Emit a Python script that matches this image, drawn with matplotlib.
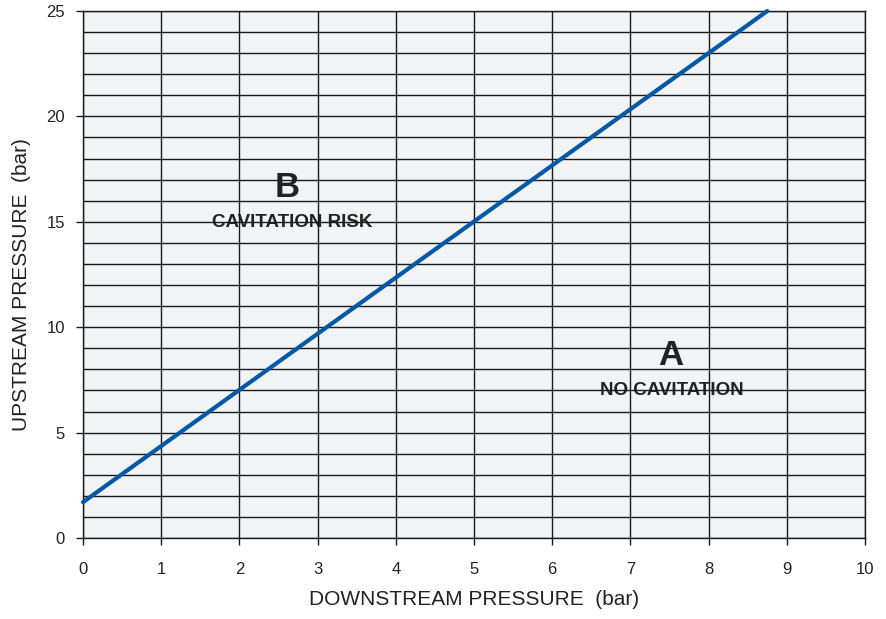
import matplotlib.pyplot as plt
import numpy as np

# curve separating the two zones
downstream = [0, 8.75]
upstream = [1.7, 25.0]

x_ticks = list(range(0, 11))
y_ticks = [0, 5, 10, 15, 20, 25]

plt.rcParams['font.family'] = ['Liberation Sans Narrow', 'Liberation Sans', 'DejaVu Sans']

fig = plt.figure(figsize=(8.86, 6.19), dpi=100)
ax = fig.add_axes([0.0937, 0.1309, 0.8826, 0.8513])
ax.set_facecolor('#f2f3f5')

ax.set_xlim(0, 10)
ax.set_ylim(0, 25)
ax.set_xticks(x_ticks)
ax.set_yticks(y_ticks)
ax.set_yticks(np.arange(0, 26, 1), minor=True)
ax.grid(True, which='major', color='#1a1a1a', linewidth=1.0, zorder=2)
ax.grid(True, which='minor', axis='y', color='#1a1a1a', linewidth=1.0, zorder=2)
ax.set_axisbelow(False)
ax.tick_params(axis='y', which='minor', length=0)
ax.tick_params(axis='both', which='major', length=5, width=1, colors='#1a1a1a',
               labelsize=12, labelcolor='#222222')
ax.tick_params(axis='x', pad=12)
ax.tick_params(axis='y', pad=8)
for s in ax.spines.values():
    s.set_color('#1a1a1a')
    s.set_linewidth(1.0)

ax.plot(downstream, upstream, color='#0059a8', linewidth=3, zorder=4,
        solid_capstyle='round', clip_on=False)

ax.text(2.61, 16.65, 'B', fontsize=25, fontweight='bold', ha='center', va='center',
        color='#222222', zorder=1)
ax.text(2.68, 14.95, 'CAVITATION RISK', fontsize=13.5, fontweight='bold', ha='center',
        va='center', color='#222222', zorder=1)
ax.text(7.52, 8.68, 'A', fontsize=25, fontweight='bold', ha='center', va='center',
        color='#222222', zorder=1)
ax.text(7.53, 7.02, 'NO CAVITATION', fontsize=13.5, fontweight='bold', ha='center',
        va='center', color='#222222', zorder=1)

ax.set_xlabel('DOWNSTREAM PRESSURE  (bar)', fontsize=15, color='#222222', labelpad=10)
ax.set_ylabel('UPSTREAM PRESSURE  (bar)', fontsize=15, color='#222222')
ax.yaxis.set_label_coords(-0.066, 0.48)

fig.savefig('out.png', dpi=100)
